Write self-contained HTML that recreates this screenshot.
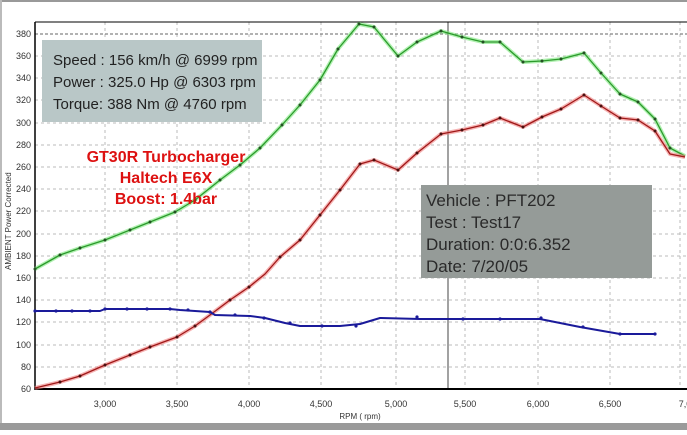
<!DOCTYPE html><html><head><style>body{margin:0;background:#fff}</style></head><body>
<svg width="687" height="430" xmlns="http://www.w3.org/2000/svg" font-family="Liberation Sans, sans-serif">
<rect width="687" height="430" fill="#fff"/>
<rect x="0" y="0" width="687" height="2" fill="#999"/>
<rect x="0" y="0" width="2" height="430" fill="#bbb"/>
<rect x="0" y="423" width="687" height="7" fill="#9a9a9a"/>
<g stroke="#bbb" stroke-dasharray="3,3" stroke-width="1">
<line x1="35" y1="56" x2="687" y2="56"/><line x1="35" y1="78" x2="687" y2="78"/><line x1="35" y1="100" x2="687" y2="100"/><line x1="35" y1="123" x2="687" y2="123"/><line x1="35" y1="145" x2="687" y2="145"/><line x1="35" y1="167" x2="687" y2="167"/><line x1="35" y1="189" x2="687" y2="189"/><line x1="35" y1="211" x2="687" y2="211"/><line x1="35" y1="234" x2="687" y2="234"/><line x1="35" y1="256" x2="687" y2="256"/><line x1="35" y1="278" x2="687" y2="278"/><line x1="35" y1="300" x2="687" y2="300"/><line x1="35" y1="322" x2="687" y2="322"/><line x1="35" y1="345" x2="687" y2="345"/><line x1="35" y1="367" x2="687" y2="367"/>
<line x1="105" y1="22" x2="105" y2="389"/><line x1="177" y1="22" x2="177" y2="389"/><line x1="249" y1="22" x2="249" y2="389"/><line x1="321" y1="22" x2="321" y2="389"/><line x1="396" y1="22" x2="396" y2="389"/><line x1="465" y1="22" x2="465" y2="389"/><line x1="538" y1="22" x2="538" y2="389"/><line x1="610" y1="22" x2="610" y2="389"/><line x1="680" y1="22" x2="680" y2="389"/>
</g>
<line x1="35" y1="34" x2="687" y2="34" stroke="#666" stroke-dasharray="3,2"/>
<line x1="448" y1="22" x2="448" y2="389" stroke="#444"/>
<line x1="35" y1="22" x2="687" y2="22" stroke="#000"/>
<line x1="35" y1="22" x2="35" y2="390" stroke="#000" stroke-width="1.5"/>
<line x1="35" y1="389" x2="687" y2="389" stroke="#000" stroke-width="2"/>
<g font-size="9" fill="#333" text-anchor="end">
<text x="31" y="37">380</text><text x="31" y="59">360</text><text x="31" y="81">340</text><text x="31" y="103">320</text><text x="31" y="126">300</text><text x="31" y="148">280</text><text x="31" y="170">260</text><text x="31" y="192">240</text><text x="31" y="214">220</text><text x="31" y="237">200</text><text x="31" y="259">180</text><text x="31" y="281">160</text><text x="31" y="303">140</text><text x="31" y="325">120</text><text x="31" y="348">100</text><text x="31" y="370">80</text><text x="31" y="392">60</text>
</g>
<g font-size="9" fill="#333" text-anchor="middle">
<text x="105" y="407">3,000</text><text x="177" y="407">3,500</text><text x="249" y="407">4,000</text><text x="321" y="407">4,500</text><text x="396" y="407">5,000</text><text x="465" y="407">5,500</text><text x="538" y="407">6,000</text><text x="610" y="407">6,500</text><text x="685" y="407">7,0</text>
<text x="360" y="419" font-size="8">RPM ( rpm)</text>
</g>
<text transform="translate(11,270) rotate(-90)" font-size="8" fill="#333">AMBIENT Power Corrected</text>
<g fill="none" stroke-linejoin="round">
<polyline stroke="#7de87d" stroke-width="4" opacity="0.6" points="35,269 60,255 80,248 105,240 130,230 150,222 175,212 195,200 220,180 240,165 260,148 282,125 300,105 320,80 338,49 359,24 374,27 398,56 417,42 441,31 462,37 483,42 500,42 523,62 542,61 561,59 584,53 601,73 620,94 638,102 655,119 670,148 685,156"/>
<polyline stroke="#2c9a2c" stroke-width="1.3" stroke-dasharray="0" points="35,269 60,255 80,248 105,240 130,230 150,222 175,212 195,200 220,180 240,165 260,148 282,125 300,105 320,80 338,49 359,24 374,27 398,56 417,42 441,31 462,37 483,42 500,42 523,62 542,61 561,59 584,53 601,73 620,94 638,102 655,119 670,148 685,156"/>
<polyline stroke="#f08080" stroke-width="4" opacity="0.6" points="35,388 60,382 80,376 105,365 130,355 150,347 177,337 195,326 210,315 230,300 249,287 265,274 280,257 300,240 320,215 340,190 360,164 374,160 398,170 417,153 441,134 462,130 483,125 500,118 523,127 542,117 561,109 584,95 601,106 620,118 638,120 655,131 670,154 685,157"/>
<polyline stroke="#a01818" stroke-width="1.3" points="35,388 60,382 80,376 105,365 130,355 150,347 177,337 195,326 210,315 230,300 249,287 265,274 280,257 300,240 320,215 340,190 360,164 374,160 398,170 417,153 441,134 462,130 483,125 500,118 523,127 542,117 561,109 584,95 601,106 620,118 638,120 655,131 670,154 685,157"/>
<polyline stroke="#1a1a9a" stroke-width="2" points="35,311 100,311 105,309 150,309 170,309 180,310 210,312 215,315 250,316 265,318 285,323 300,326 340,326 360,324 380,318 420,319 445,319 540,319 580,327 620,334 655,334"/>
</g>
<g fill="#245024">
<circle cx="35" cy="269" r="1.5"/><circle cx="60" cy="255" r="1.5"/><circle cx="80" cy="248" r="1.5"/><circle cx="105" cy="240" r="1.5"/><circle cx="130" cy="230" r="1.5"/><circle cx="150" cy="222" r="1.5"/><circle cx="175" cy="212" r="1.5"/><circle cx="195" cy="200" r="1.5"/><circle cx="220" cy="180" r="1.5"/><circle cx="240" cy="165" r="1.5"/><circle cx="260" cy="148" r="1.5"/><circle cx="282" cy="125" r="1.5"/><circle cx="300" cy="105" r="1.5"/><circle cx="320" cy="80" r="1.5"/><circle cx="338" cy="49" r="1.5"/><circle cx="359" cy="24" r="1.5"/><circle cx="374" cy="27" r="1.5"/><circle cx="398" cy="56" r="1.5"/><circle cx="417" cy="42" r="1.5"/><circle cx="441" cy="31" r="1.5"/><circle cx="462" cy="37" r="1.5"/><circle cx="483" cy="42" r="1.5"/><circle cx="500" cy="42" r="1.5"/><circle cx="523" cy="62" r="1.5"/><circle cx="542" cy="61" r="1.5"/><circle cx="561" cy="59" r="1.5"/><circle cx="584" cy="53" r="1.5"/><circle cx="601" cy="73" r="1.5"/><circle cx="620" cy="94" r="1.5"/><circle cx="638" cy="102" r="1.5"/><circle cx="655" cy="119" r="1.5"/><circle cx="670" cy="148" r="1.5"/>
</g>
<g fill="#4a1010">
<circle cx="60" cy="382" r="1.5"/><circle cx="80" cy="376" r="1.5"/><circle cx="105" cy="365" r="1.5"/><circle cx="130" cy="355" r="1.5"/><circle cx="150" cy="347" r="1.5"/><circle cx="177" cy="337" r="1.5"/><circle cx="195" cy="326" r="1.5"/><circle cx="230" cy="300" r="1.5"/><circle cx="249" cy="287" r="1.5"/><circle cx="280" cy="257" r="1.5"/><circle cx="300" cy="240" r="1.5"/><circle cx="320" cy="215" r="1.5"/><circle cx="340" cy="190" r="1.5"/><circle cx="360" cy="164" r="1.5"/><circle cx="374" cy="160" r="1.5"/><circle cx="398" cy="170" r="1.5"/><circle cx="417" cy="153" r="1.5"/><circle cx="441" cy="134" r="1.5"/><circle cx="462" cy="130" r="1.5"/><circle cx="483" cy="125" r="1.5"/><circle cx="500" cy="118" r="1.5"/><circle cx="523" cy="127" r="1.5"/><circle cx="542" cy="117" r="1.5"/><circle cx="561" cy="109" r="1.5"/><circle cx="584" cy="95" r="1.5"/><circle cx="601" cy="106" r="1.5"/><circle cx="620" cy="118" r="1.5"/><circle cx="638" cy="120" r="1.5"/><circle cx="655" cy="131" r="1.5"/>
</g>
<g fill="#1a1a9a">
<circle cx="35" cy="311" r="1.6"/><circle cx="56" cy="311" r="1.6"/><circle cx="72" cy="311" r="1.6"/><circle cx="90" cy="311" r="1.6"/><circle cx="105" cy="309" r="1.6"/><circle cx="127" cy="309" r="1.6"/><circle cx="147" cy="309" r="1.6"/><circle cx="170" cy="309" r="1.6"/><circle cx="188" cy="310" r="1.6"/><circle cx="210" cy="312" r="1.6"/><circle cx="235" cy="315" r="1.6"/><circle cx="264" cy="318" r="1.6"/><circle cx="290" cy="323" r="1.6"/><circle cx="322" cy="326" r="1.6"/><circle cx="356" cy="326" r="1.6"/><circle cx="417" cy="317" r="1.6"/><circle cx="463" cy="319" r="1.6"/><circle cx="500" cy="319" r="1.6"/><circle cx="541" cy="318" r="1.6"/><circle cx="583" cy="327" r="1.6"/><circle cx="620" cy="334" r="1.6"/><circle cx="655" cy="334" r="1.6"/>
</g>
<rect x="42" y="40" width="220" height="82" fill="#b9c7c7"/>
<g font-size="15" fill="#222"><text x="53" y="65">Speed : 156 km/h @ 6999 rpm</text><text x="53" y="87">Power : 325.0 Hp @ 6303 rpm</text><text x="53" y="109">Torque: 388 Nm @ 4760 rpm</text></g>
<rect x="421" y="185" width="231" height="93" fill="#959b98"/>
<g font-size="17" fill="#2a2a2a"><text x="426" y="206">Vehicle : PFT202</text><text x="426" y="228">Test     : Test17</text><text x="426" y="250">Duration: 0:0:6.352</text><text x="426" y="272">Date:  7/20/05</text></g>
<g font-size="16" font-weight="bold" fill="#dd1111" text-anchor="middle"><text x="166" y="162">GT30R Turbocharger</text><text x="166" y="183">Haltech E6X</text><text x="166" y="204">Boost: 1.4bar</text></g>
</svg>
</body></html>
